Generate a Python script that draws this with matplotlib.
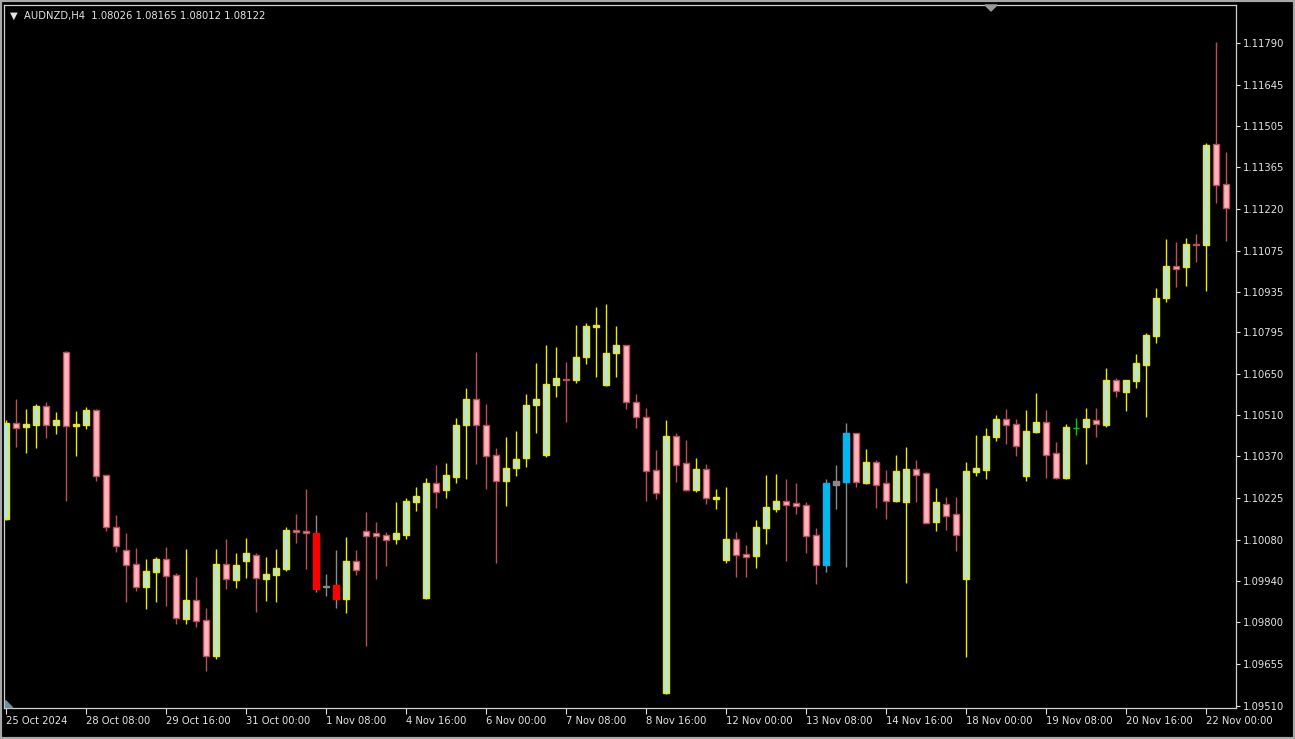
import matplotlib
matplotlib.use("Agg")
import matplotlib.pyplot as plt
from matplotlib.patches import Polygon, Rectangle

# AUDNZD H4 candles
opens = [1.10154, 1.10484, 1.10468, 1.10476, 1.10542, 1.10476, 1.10728, 1.10473, 1.10476, 1.10528,
         1.10304, 1.10127, 1.10046, 1.09998, 1.09918, 1.09970, 1.10015, 1.09960, 1.09808, 1.09875,
         1.09806, 1.09682, 1.09998, 1.09943, 1.10009, 1.10029, 1.09948, 1.09960, 1.09982, 1.10115,
         1.10111, 1.10106, 1.09924, 1.09925, 1.09879, 1.10009, 1.10111, 1.10104, 1.10098, 1.10085,
         1.10098, 1.10211, 1.09880, 1.10276, 1.10253, 1.10296, 1.10476, 1.10566, 1.10476, 1.10373,
         1.10284, 1.10327, 1.10362, 1.10545, 1.10373, 1.10614, 1.10636, 1.10631, 1.10709, 1.10812,
         1.10614, 1.10723, 1.10751, 1.10556, 1.10505, 1.10322, 1.09554, 1.10439, 1.10345, 1.10253,
         1.10325, 1.10223, 1.10012, 1.10084, 1.10034, 1.10026, 1.10121, 1.10189, 1.10214, 1.10207,
         1.10201, 1.10098, 1.09995, 1.10270, 1.10281, 1.10448, 1.10278, 1.10348, 1.10276, 1.10215,
         1.10211, 1.10326, 1.10310, 1.10142, 1.10205, 1.10170, 1.09948, 1.10314, 1.10322, 1.10434,
         1.10498, 1.10481, 1.10301, 1.10451, 1.10486, 1.10379, 1.10295, 1.10467, 1.10468, 1.10494,
         1.10476, 1.10631, 1.10589, 1.10628, 1.10683, 1.10782, 1.10912, 1.11022, 1.11019, 1.11100,
         1.11095, 1.11443, 1.11305]
highs = [1.10494, 1.10565, 1.10530, 1.10548, 1.10556, 1.10522, 1.10730, 1.10526, 1.10539, 1.10530,
         1.10306, 1.10166, 1.10105, 1.10052, 1.10014, 1.10023, 1.10058, 1.09966, 1.10049, 1.09955,
         1.09846, 1.10049, 1.10083, 1.10037, 1.10087, 1.10035, 1.10023, 1.10049, 1.10127, 1.10170,
         1.10256, 1.10167, 1.09964, 1.10046, 1.10092, 1.10046, 1.10178, 1.10144, 1.10109, 1.10213,
         1.10224, 1.10264, 1.10293, 1.10339, 1.10347, 1.10499, 1.10603, 1.10728, 1.10548, 1.10396,
         1.10436, 1.10457, 1.10583, 1.10691, 1.10751, 1.10746, 1.10694, 1.10820, 1.10826, 1.10883,
         1.10892, 1.10818, 1.10753, 1.10583, 1.10534, 1.10390, 1.10494, 1.10448, 1.10425, 1.10362,
         1.10342, 1.10256, 1.10264, 1.10109, 1.10064, 1.10150, 1.10304, 1.10308, 1.10289, 1.10278,
         1.10213, 1.10123, 1.10289, 1.10339, 1.10484, 1.10450, 1.10393, 1.10356, 1.10322, 1.10373,
         1.10402, 1.10356, 1.10316, 1.10261, 1.10230, 1.10230, 1.10350, 1.10442, 1.10467, 1.10511,
         1.10531, 1.10496, 1.10528, 1.10587, 1.10528, 1.10419, 1.10480, 1.10502, 1.10534, 1.10534,
         1.10671, 1.10637, 1.10631, 1.10720, 1.10792, 1.10946, 1.11115, 1.11106, 1.11118, 1.11133,
         1.11445, 1.11794, 1.11416]
lows = [1.10150, 1.10402, 1.10379, 1.10396, 1.10431, 1.10444, 1.10216, 1.10371, 1.10462, 1.10285,
        1.10113, 1.10041, 1.09869, 1.09906, 1.09843, 1.09869, 1.09855, 1.09791, 1.09791, 1.09783,
        1.09631, 1.09671, 1.09911, 1.09915, 1.09949, 1.09834, 1.09872, 1.09868, 1.09975, 1.10069,
        1.09980, 1.09902, 1.09889, 1.09846, 1.09829, 1.09960, 1.09717, 1.09946, 1.09992, 1.10066,
        1.10083, 1.10182, 1.09877, 1.10190, 1.10224, 1.10276, 1.10289, 1.10341, 1.10255, 1.10001,
        1.10199, 1.10302, 1.10333, 1.10448, 1.10367, 1.10574, 1.10488, 1.10620, 1.10686, 1.10642,
        1.10610, 1.10642, 1.10530, 1.10465, 1.10216, 1.10221, 1.09550, 1.10281, 1.10250, 1.10247,
        1.10204, 1.10186, 1.10003, 1.09955, 1.09955, 1.09983, 1.10066, 1.10178, 1.10010, 1.10169,
        1.10035, 1.09930, 1.09972, 1.10186, 1.09989, 1.10264, 1.10272, 1.10190, 1.10152, 1.10211,
        1.09932, 1.10212, 1.10138, 1.10113, 1.10115, 1.10044, 1.09680, 1.10301, 1.10289, 1.10422,
        1.10410, 1.10371, 1.10285, 1.10448, 1.10293, 1.10289, 1.10289, 1.10442, 1.10341, 1.10436,
        1.10470, 1.10574, 1.10526, 1.10603, 1.10503, 1.10757, 1.10900, 1.10952, 1.10955, 1.11038,
        1.10938, 1.11239, 1.11110]
closes = [1.10484, 1.10465, 1.10481, 1.10542, 1.10476, 1.10494, 1.10473, 1.10479, 1.10528, 1.10301,
          1.10125, 1.10060, 1.09995, 1.09918, 1.09974, 1.10017, 1.09957, 1.09812, 1.09875, 1.09802,
          1.09682, 1.09998, 1.09946, 1.09995, 1.10035, 1.09949, 1.09965, 1.09986, 1.10115, 1.10107,
          1.10104, 1.09913, 1.09918, 1.09879, 1.10009, 1.09978, 1.10095, 1.10095, 1.10081, 1.10104,
          1.10215, 1.10232, 1.10276, 1.10245, 1.10304, 1.10476, 1.10566, 1.10476, 1.10370, 1.10284,
          1.10329, 1.10359, 1.10545, 1.10567, 1.10617, 1.10639, 1.10631, 1.10711, 1.10817, 1.10820,
          1.10725, 1.10751, 1.10554, 1.10503, 1.10318, 1.10241, 1.10439, 1.10339, 1.10253, 1.10325,
          1.10224, 1.10228, 1.10084, 1.10029, 1.10021, 1.10125, 1.10195, 1.10214, 1.10201, 1.10198,
          1.10095, 1.09995, 1.10278, 1.10283, 1.10448, 1.10279, 1.10348, 1.10270, 1.10215, 1.10318,
          1.10326, 1.10304, 1.10140, 1.10211, 1.10163, 1.10098, 1.10318, 1.10329, 1.10439, 1.10498,
          1.10477, 1.10404, 1.10456, 1.10486, 1.10373, 1.10295, 1.10468, 1.10467, 1.10498, 1.10479,
          1.10631, 1.10593, 1.10631, 1.10688, 1.10786, 1.10914, 1.11023, 1.11014, 1.11100, 1.11095,
          1.11439, 1.11302, 1.11222]

# bars coloured by the indicator on the chart
marked_bear = [31, 33]
marked_bull = [82, 84]
marked_doji = [32, 83]

time_labels = ["25 Oct 2024", "28 Oct 08:00", "29 Oct 16:00", "31 Oct 00:00", "1 Nov 08:00",
               "4 Nov 16:00", "6 Nov 00:00", "7 Nov 08:00", "8 Nov 16:00", "12 Nov 00:00",
               "13 Nov 08:00", "14 Nov 16:00", "18 Nov 00:00", "19 Nov 08:00", "20 Nov 16:00",
               "22 Nov 00:00"]
price_ticks = [1.11790, 1.11645, 1.11505, 1.11365, 1.11220, 1.11075, 1.10935, 1.10795,
               1.10650, 1.10510, 1.10370, 1.10225, 1.10080, 1.09940, 1.09800, 1.09655, 1.09510]

header = "\u25BC  AUDNZD,H4  1.08026 1.08165 1.08012 1.08122"

W, H = 1295, 739
fig = plt.figure(figsize=(W / 100, H / 100), dpi=100, facecolor="black")
ax = fig.add_axes([4 / W, (H - 708) / H, 1232 / W, 703 / H])
ax.set_facecolor("black")

txt = "#e4e4e4"
bull_edge, bull_fill = "#eaea00", "#b9e3da"
bear_edge, bear_fill = "#b8505a", "#ffb3bd"
wick_gray = "#8a8a8a"

for i in range(len(opens)):
    o, h, l, c = opens[i], highs[i], lows[i], closes[i]
    if i in marked_bear:
        wc, ec, fc = wick_gray, "#ff0000", "#ff0000"
    elif i in marked_bull:
        wc, ec, fc = wick_gray, "#00b8f0", "#00b8f0"
    elif i in marked_doji:
        wc, ec, fc = wick_gray, "#8a8a8a", "#8a8a8a"
    elif c > o:
        wc, ec, fc = bull_edge, bull_edge, bull_fill
    elif c < o:
        wc, ec, fc = bear_edge, bear_edge, bear_fill
    else:
        wc, ec, fc = "#00d000", "#00d000", "#00d000"
    ax.vlines(i, l, h, color=wc, linewidth=1.0, zorder=2)
    ax.bar(i, c - o, bottom=o, width=0.62, color=fc, edgecolor=ec,
           linewidth=1.0, zorder=3)

ax.set_xlim(-0.2, 123.0)
ax.set_ylim(1.0950312, 1.1192068)

ax.set_xticks(range(0, 8 * len(time_labels), 8))
ax.set_xticklabels(time_labels)
for lab in ax.get_xticklabels():
    lab.set_horizontalalignment("left")
ax.yaxis.tick_right()
ax.set_yticks(price_ticks)
ax.set_yticklabels([f"{p:.5f}" for p in price_ticks])

ax.tick_params(axis="x", colors=txt, length=4, width=0.8, pad=2, labelsize=7.2)
ax.tick_params(axis="y", colors=txt, length=3, width=0.8, pad=2, labelsize=7.2)
for sp in ax.spines.values():
    sp.set_color("#cfcfcf")
    sp.set_linewidth(0.9)

# small chart-shift markers
ax.add_patch(Polygon([(981 / 1232, 1.0), (993 / 1232, 1.0), (987 / 1232, 1 - 6 / 703)],
                     closed=True, transform=ax.transAxes, color="#9a9a9a",
                     clip_on=False, zorder=5))
ax.add_patch(Polygon([(1 / 1232, 8 / 703), (1 / 1232, 1 / 703), (8 / 1232, 1 / 703)],
                     closed=True, transform=ax.transAxes, color="#6f8fa0",
                     clip_on=False, zorder=5))

fig.text(10 / W, 1 - 16 / H, header, color=txt, fontsize=7.2, va="center", ha="left")

fig.patches.append(Rectangle((0, 0), 1, 1, transform=fig.transFigure, fill=False,
                             edgecolor="#a8a8a8", linewidth=3))

fig.savefig("out.png", dpi=100, facecolor="black")
